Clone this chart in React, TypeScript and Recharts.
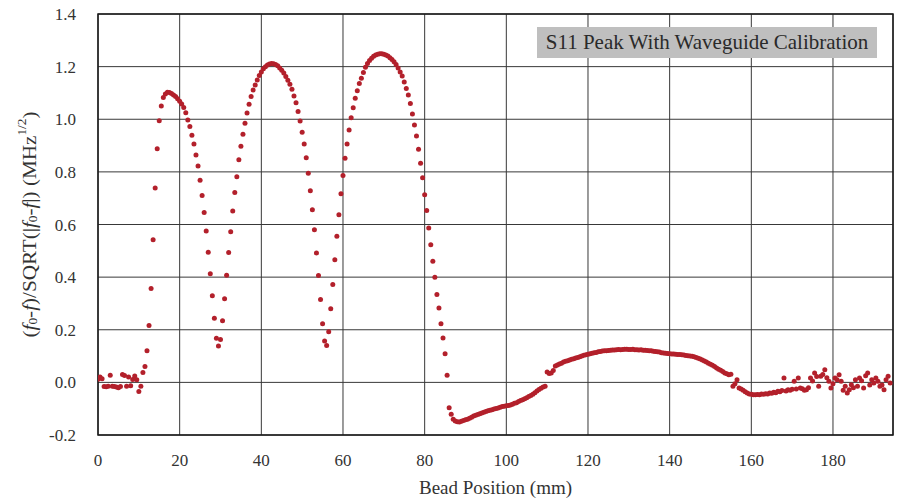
import React from 'react';
import {
  ScatterChart,
  Scatter,
  XAxis,
  YAxis,
  CartesianGrid,
  ReferenceArea,
  Label,
} from 'recharts';

// Bead positions are sampled every 0.5 mm, starting at 0 mm.
const POSITION_STEP_MM = 0.5;

// (f0-f)/SQRT(|f0-f|) values, one per bead position (0 mm .. 194 mm)
const shiftValues: number[] = [
  // 0 - 9.5
  0.012, 0.02, 0.014, -0.016, -0.017, -0.015, 0.027, -0.015, -0.016, -0.018,
  -0.02, -0.016, 0.03, 0.026, -0.015, 0.02, -0.013, 0.011, 0.024, 0.01,
  // 10 - 19.5
  -0.035, -0.015, 0.038, 0.06, 0.12, 0.216, 0.357, 0.542, 0.739, 0.888,
  0.994, 1.05, 1.083, 1.096, 1.103, 1.102, 1.098, 1.092, 1.086, 1.078,
  // 20 - 29.5
  1.068, 1.058, 1.045, 1.025, 0.997, 0.972, 0.939, 0.906, 0.864, 0.822,
  0.768, 0.71, 0.646, 0.575, 0.495, 0.413, 0.329, 0.244, 0.168, 0.138,
  // 30 - 39.5
  0.163, 0.234, 0.318, 0.407, 0.494, 0.572, 0.651, 0.722, 0.781, 0.846,
  0.897, 0.943, 0.985, 1.024, 1.057, 1.086, 1.111, 1.13, 1.149, 1.166,
  // 40 - 49.5
  1.18, 1.192, 1.2, 1.206, 1.21, 1.212, 1.211, 1.208, 1.203, 1.195,
  1.186, 1.176, 1.162, 1.148, 1.133, 1.114, 1.088, 1.063, 1.029, 0.993,
  // 50 - 59.5
  0.951, 0.906, 0.854, 0.795, 0.728, 0.656, 0.58, 0.492, 0.406, 0.315,
  0.223, 0.157, 0.14, 0.192, 0.28, 0.372, 0.466, 0.555, 0.637, 0.717,
  // 60 - 69.5
  0.786, 0.852, 0.906, 0.959, 1.006, 1.044, 1.08, 1.108, 1.136, 1.156,
  1.178, 1.198, 1.212, 1.223, 1.232, 1.239, 1.244, 1.247, 1.249, 1.249,
  // 70 - 79.5
  1.247, 1.244, 1.24, 1.234, 1.227, 1.219, 1.208, 1.195, 1.18, 1.164,
  1.142, 1.117, 1.092, 1.06, 1.02, 0.978, 0.936, 0.886, 0.833, 0.778,
  // 80 - 89.5
  0.713, 0.653, 0.587, 0.523, 0.46, 0.4, 0.334, 0.283, 0.223, 0.169,
  0.109, 0.027, -0.096, -0.121, -0.14, -0.147, -0.15, -0.151, -0.148, -0.145,
  // 90 - 99.5
  -0.142, -0.14, -0.136, -0.133, -0.128, -0.125, -0.122, -0.119, -0.116, -0.114,
  -0.111, -0.108, -0.106, -0.104, -0.101, -0.099, -0.097, -0.095, -0.092, -0.091,
  // 100 - 109.5
  -0.089, -0.088, -0.086, -0.083, -0.079, -0.077, -0.073, -0.069, -0.066, -0.062,
  -0.058, -0.054, -0.05, -0.045, -0.039, -0.033, -0.027, -0.022, -0.018, -0.015,
  // 110 - 119.5
  0.039, 0.034, 0.036, 0.045, 0.062, 0.066, 0.07, 0.073, 0.077, 0.08,
  0.082, 0.085, 0.088, 0.09, 0.093, 0.095, 0.097, 0.1, 0.103, 0.105,
  // 120 - 129.5
  0.107, 0.109, 0.111, 0.113, 0.114, 0.116, 0.117, 0.119, 0.12, 0.12,
  0.121, 0.122, 0.123, 0.123, 0.124, 0.125, 0.124, 0.125, 0.126, 0.126,
  // 130 - 139.5
  0.125, 0.125, 0.126, 0.124, 0.124, 0.123, 0.124, 0.122, 0.122, 0.121,
  0.12, 0.12, 0.118, 0.117, 0.116, 0.115, 0.113, 0.112, 0.111, 0.11,
  // 140 - 149.5
  0.109, 0.108, 0.108, 0.107, 0.106, 0.106, 0.105, 0.104, 0.102, 0.101,
  0.1, 0.099, 0.097, 0.095, 0.092, 0.089, 0.085, 0.081, 0.077, 0.073,
  // 150 - 159.5
  0.069, 0.065, 0.06, 0.055, 0.05, 0.046, 0.041, 0.036, 0.033, 0.029,
  0.031, -0.015, -0.005, 0.01, -0.021, -0.025, -0.03, -0.036, -0.04, -0.044,
  // 160 - 169.5
  -0.045, -0.047, -0.047, -0.046, -0.047, -0.044, -0.045, -0.043, -0.044, -0.04,
  -0.041, -0.038, -0.039, -0.034, -0.036, -0.031, 0.017, -0.033, -0.028, -0.03,
  // 170 - 179.5
  -0.026, 0.004, -0.025, 0.017, -0.021, -0.024, -0.03, -0.028, -0.02, 0.017,
  0.005, 0.036, 0.022, -0.015, 0.023, 0.03, 0.048, 0.018, 0.004, -0.021,
  // 180 - 189.5
  -0.005, 0.017, 0.01, 0.029, 0.004, -0.03, -0.015, -0.04, -0.028, -0.009,
  -0.02, 0.01, -0.015, 0.017, 0.006, -0.021, 0.025, 0.036, -0.01, 0.01,
  // 190 - 194
  -0.002, 0.017, 0.004, -0.015, -0.01, -0.028, 0.01, 0.023, -0.002,
];

const X_TICKS = [0, 20, 40, 60, 80, 100, 120, 140, 160, 180];
const Y_TICKS = [-0.2, 0, 0.2, 0.4, 0.6, 0.8, 1.0, 1.2, 1.4];
const X_DOMAIN: [number, number] = [0, 194.7];
const Y_DOMAIN: [number, number] = [-0.2, 1.4];

const TITLE = 'S11 Peak With Waveguide Calibration';
const X_LABEL = 'Bead Position (mm)';

const chartData = shiftValues.map((v, i) => ({ x: i * POSITION_STEP_MM, y: v }));

const FONT = '"Liberation Serif", "Times New Roman", serif';
const DOT_COLOR = '#b3202b';
const TEXT_COLOR = '#333333';

const Dot = (props: any) => {
  const { cx, cy } = props;
  if (cx == null || cy == null) return null;
  return <circle cx={cx} cy={cy} r={2.5} fill={DOT_COLOR} />;
};

const YLabelContent = (props: any) => {
  const vb = props.viewBox || { x: 0, y: 14, width: 98, height: 421 };
  const cx = 29;
  const cy = vb.y + vb.height / 2;
  return (
    <text
      x={cx}
      y={cy}
      transform={`rotate(-90 ${cx} ${cy})`}
      textAnchor="middle"
      dominantBaseline="central"
      fontFamily={FONT}
      fontSize={19}
      fill={TEXT_COLOR}
      textLength={226}
      lengthAdjust="spacingAndGlyphs"
    >
      <tspan>(</tspan>
      <tspan fontStyle="italic">f</tspan>
      <tspan fontSize={12} dy={4}>0</tspan>
      <tspan dy={-4}>-</tspan>
      <tspan fontStyle="italic">f</tspan>
      <tspan>)/SQRT(|</tspan>
      <tspan fontStyle="italic">f</tspan>
      <tspan fontSize={12} dy={4}>0</tspan>
      <tspan dy={-4}>-</tspan>
      <tspan fontStyle="italic">f</tspan>
      <tspan>|) (MHz</tspan>
      <tspan fontSize={12} dy={-7}>1/2</tspan>
      <tspan dy={7}>)</tspan>
    </text>
  );
};

export default function App() {
  return (
    <div style={{ position: 'absolute', left: 0, top: 0, width: 906, height: 500, background: '#ffffff' }}>
      <ScatterChart
        width={906}
        height={500}
        margin={{ top: 14, right: 13, bottom: 0, left: 0 }}
      >
        <CartesianGrid stroke="#383838" strokeWidth={1} />
        <XAxis
          type="number"
          dataKey="x"
          domain={X_DOMAIN}
          ticks={X_TICKS}
          allowDataOverflow
          interval={0}
          tickLine={false}
          axisLine={false}
          tickSize={0}
          tickMargin={18.5}
          height={65}
          tick={{ fontSize: 17, fill: TEXT_COLOR, fontFamily: FONT }}
        >
          <Label
            value={X_LABEL}
            position="insideBottom"
            offset={6}
            style={{ fontSize: 19, fill: TEXT_COLOR, fontFamily: FONT }}
          />
        </XAxis>
        <YAxis
          type="number"
          dataKey="y"
          domain={Y_DOMAIN}
          ticks={Y_TICKS}
          allowDataOverflow
          interval={0}
          tickLine={false}
          axisLine={false}
          tickSize={0}
          tickMargin={22}
          width={98}
          tickFormatter={(v: number) => v.toFixed(1)}
          tick={{ fontSize: 17, fill: TEXT_COLOR, fontFamily: FONT }}
        >
          <Label content={YLabelContent} />
        </YAxis>
        <ReferenceArea
          x1={X_DOMAIN[0]}
          x2={X_DOMAIN[1]}
          y1={Y_DOMAIN[0]}
          y2={Y_DOMAIN[1]}
          fill="none"
          stroke="#1a1a1a"
          strokeWidth={1.5}
        />
        <Scatter data={chartData} fill={DOT_COLOR} shape={Dot} isAnimationActive={false} />
      </ScatterChart>
      <div
        style={{
          position: 'absolute',
          left: 537,
          top: 27,
          width: 340,
          height: 31,
          background: '#bfbfbf',
          color: '#2a2a2a',
          fontFamily: FONT,
          fontSize: 21,
          lineHeight: '31px',
          textAlign: 'center',
          whiteSpace: 'nowrap',
        }}
      >
        {TITLE}
      </div>
    </div>
  );
}
